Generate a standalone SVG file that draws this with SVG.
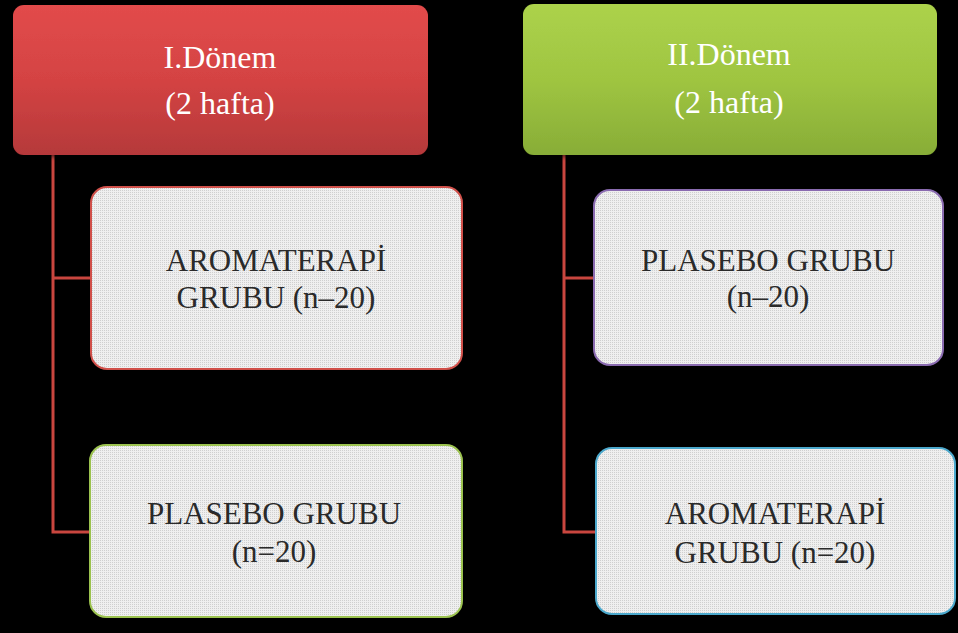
<svg xmlns="http://www.w3.org/2000/svg" width="958" height="633" viewBox="0 0 958 633">
<defs>
<linearGradient id="gRed" x1="0" y1="0" x2="0" y2="1">
<stop offset="0" stop-color="#e24b4b"/>
<stop offset="0.5" stop-color="#d44343"/>
<stop offset="1" stop-color="#b5393a"/>
</linearGradient>
<linearGradient id="gGreen" x1="0" y1="0" x2="0" y2="1">
<stop offset="0" stop-color="#acd24b"/>
<stop offset="0.5" stop-color="#9fc541"/>
<stop offset="1" stop-color="#88ad37"/>
</linearGradient>
<pattern id="dots" width="2" height="2" patternUnits="userSpaceOnUse">
<rect width="2" height="2" fill="#efefef"/>
<rect width="1" height="1" fill="#cfcfcf"/>
</pattern>
<filter id="sh" x="-10%" y="-10%" width="120%" height="130%">
<feDropShadow dx="0" dy="2" stdDeviation="2" flood-color="#000" flood-opacity="0.6"/>
</filter>
</defs>
<style>
.hdr{font-family:"Liberation Serif","Times New Roman",serif;font-size:32px;fill:#ffffff;text-anchor:middle}
.lbl{font-family:"Liberation Serif","Times New Roman",serif;font-size:31px;fill:#2a2a2a;text-anchor:middle}
.box{fill:url(#dots);stroke-width:2}
.conn{fill:none;stroke:#c9463f;stroke-width:3}
</style>
<rect width="958" height="633" fill="#000"/>
<g id="connectors">
<path class="conn" d="M53,155 V532 H92 M53,278 H92"/>
<path class="conn" d="M564,155 V532 H596 M564,278 H596"/>
</g>
<g id="period1">
<rect x="13" y="5" width="415" height="150" rx="11" fill="url(#gRed)" filter="url(#sh)"/>
<text class="hdr" x="220" y="68">I.Dönem</text>
<text class="hdr" x="220" y="114">(2 hafta)</text>
</g>
<g id="period2">
<rect x="523" y="4" width="414" height="151" rx="11" fill="url(#gGreen)" filter="url(#sh)"/>
<text class="hdr" x="729" y="65">II.Dönem</text>
<text class="hdr" x="729" y="113">(2 hafta)</text>
</g>
<g id="group1">
<rect class="box" x="91" y="187" width="371" height="182" rx="16" stroke="#d0504a"/>
<text class="lbl" x="276" y="271">AROMATERAPİ</text>
<text class="lbl" x="276" y="308">GRUBU (n–20)</text>
</g>
<g id="group2">
<rect class="box" x="594" y="190" width="349" height="175" rx="16" stroke="#8a6bb0"/>
<text class="lbl" x="768" y="271">PLASEBO GRUBU</text>
<text class="lbl" x="768" y="307">(n–20)</text>
</g>
<g id="group3">
<rect class="box" x="90" y="445" width="372" height="172" rx="16" stroke="#9bc24f"/>
<text class="lbl" x="274" y="524">PLASEBO GRUBU</text>
<text class="lbl" x="274" y="562">(n=20)</text>
</g>
<g id="group4">
<rect class="box" x="596" y="448" width="359" height="166" rx="16" stroke="#4ba8cc"/>
<text class="lbl" x="775" y="524">AROMATERAPİ</text>
<text class="lbl" x="775" y="563">GRUBU (n=20)</text>
</g>
</svg>
